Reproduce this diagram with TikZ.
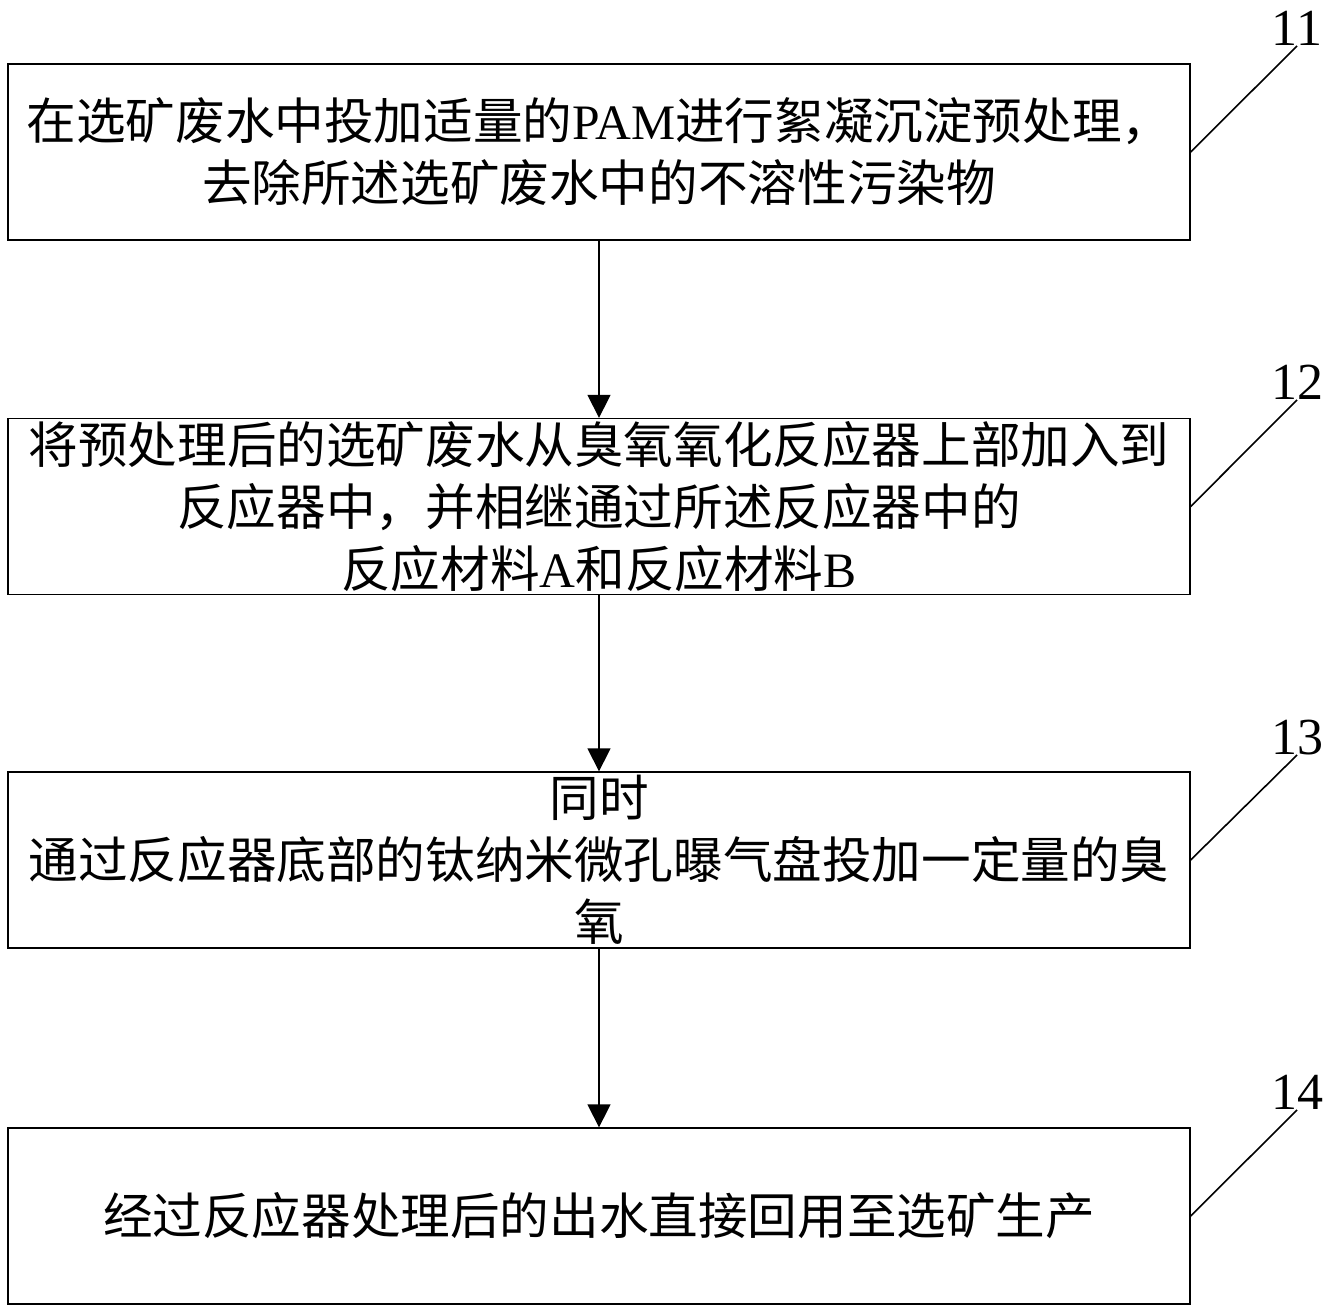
\documentclass[tikz,border=0pt]{standalone}
\usepackage{fontspec}
\setmainfont{Liberation Serif}
\newfontfamily\cjk{Noto Sans CJK SC}
\usetikzlibrary{arrows.meta}
\tikzset{
  stepbox/.style={draw=black, line width=1.3pt, minimum width=1182pt, minimum height=176pt,
    inner sep=0pt, align=center, font=\fontsize{49.6}{62}\selectfont\cjk},
  flow/.style={line width=1.3pt, -{Triangle[width=23pt,length=23pt]}},
  lab/.style={inner sep=0pt, anchor=south, font=\fontsize{52}{52}\selectfont},
  leader/.style={line width=1.6pt}
}
\begin{document}
\begin{tikzpicture}[x=1pt,y=-1pt]
\useasboundingbox (0,0) rectangle (1330,1314);
\node[stepbox] (b1) at (599,152) {在选矿废水中投加适量的{\rmfamily PAM}进行絮凝沉淀预处理，\\去除所述选矿废水中的不溶性污染物};
\node[stepbox] (b2) at (599,506.5) {将预处理后的选矿废水从臭氧氧化反应器上部加入到\\反应器中，并相继通过所述反应器中的\\反应材料{\rmfamily A}和反应材料{\rmfamily B}};
\node[stepbox] (b3) at (599,860) {同时\\通过反应器底部的钛纳米微孔曝气盘投加一定量的臭\\氧};
\node[stepbox] (b4) at (599,1216) {经过反应器处理后的出水直接回用至选矿生产};
\node[lab] (l1) at (1297,46) {11};
\node[lab] (l2) at (1297,400) {12};
\node[lab] (l3) at (1297,755) {13};
\node[lab] (l4) at (1297,1110) {14};
\draw[flow] (b1) -- (b2);
\draw[flow] (b2) -- (b3);
\draw[flow] (b3) -- (b4);
\draw[leader] (b1.east) -- (l1.south);
\draw[leader] (b2.east) -- (l2.south);
\draw[leader] (b3.east) -- (l3.south);
\draw[leader] (b4.east) -- (l4.south);
\end{tikzpicture}
\end{document}
